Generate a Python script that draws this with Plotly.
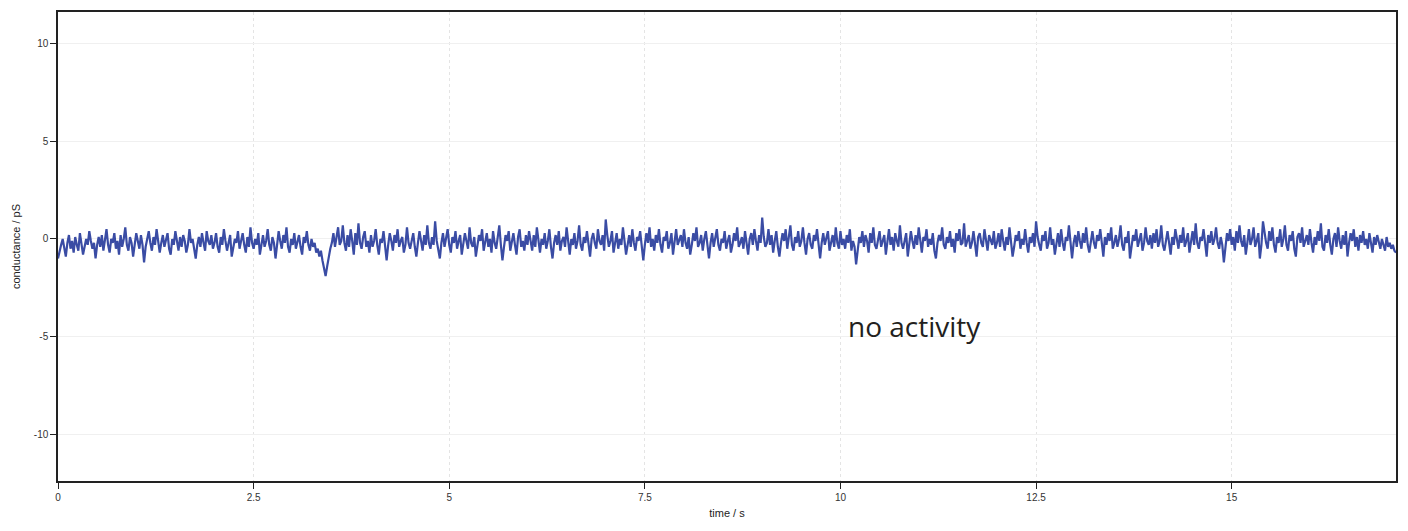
import plotly.graph_objects as go

# sampling interval of the hand-read trace (s)
dt = 0.02

# conductance (pS) in 2 s blocks
seg_00_02 = [-1.0, -0.6, -0.3, 0.0, -0.4, -0.9, -0.2, 0.2, -0.5, -0.1,
             -0.7, 0.1, -0.3, -0.6, 0.3, -0.2, -0.8, -0.4, 0.0, -0.3,
             0.4, -0.1, -0.5, -0.2, -1.0, -0.3, 0.1, -0.4, 0.2, -0.6,
             -0.1, 0.5, -0.3, -0.7, 0.0, -0.2, 0.3, -0.5, -0.1, -0.8,
             0.2, -0.4, 0.0, 0.6, -0.3, -0.6, 0.1, -0.2, -0.9, -0.4,
             0.3, -0.1, -0.5, 0.2, -0.3, -1.2, -0.4, 0.0, 0.4, -0.2,
             -0.6, 0.1, -0.3, 0.5, -0.1, -0.7, -0.2, 0.2, -0.4, -0.1,
             0.3, -0.5, -0.8, 0.0, -0.3, 0.4, -0.2, -0.6, 0.1, -0.4,
             0.2, -0.1, -0.7, -0.3, 0.5, -0.2, 0.0, -0.5, -1.0, -0.3,
             0.1, -0.4, 0.3, -0.2, -0.6, 0.4, -0.1, -0.3, 0.2, -0.5]
seg_02_04 = [-0.2, 0.3, -0.4, -0.7, 0.1, -0.3, 0.5, -0.1, -0.6, -0.2,
             0.2, -0.9, -0.4, 0.0, -0.2, 0.4, -0.5, -0.1, 0.3, -0.3,
             -0.7, 0.1, -0.4, 0.6, -0.2, -0.5, 0.0, -0.3, 0.3, -0.8,
             -0.2, 0.2, -0.4, -0.1, 0.5, -0.3, -0.6, 0.1, -0.2, -1.0,
             -0.3, 0.4, -0.1, -0.5, 0.2, -0.2, 0.6, -0.4, -0.7, 0.0,
             -0.3, 0.3, -0.5, -0.1, 0.2, -0.4, -0.8, 0.1, -0.2, 0.4,
             -0.3, -0.6, 0.0, -0.4, -0.2, -0.7, -0.5, -0.9, -0.6, -1.1,
             -1.5, -1.9, -1.4, -0.9, -0.5, -0.2, 0.3, -0.4, 0.1, 0.6,
             -0.3, -0.1, 0.7, -0.2, -0.6, 0.2, -0.4, 0.5, -0.1, -0.8,
             0.3, -0.3, 0.8, -0.2, -0.5, 0.1, 0.4, -0.4, -0.1, -0.7]
seg_04_06 = [0.2, -0.4, -0.1, 0.5, -0.3, -0.8, 0.0, -0.2, 0.4, -0.5,
             -1.1, -0.3, 0.3, -0.1, -0.6, 0.2, -0.2, 0.5, -0.4, -0.1,
             0.1, -0.7, -0.3, 0.6, -0.2, -0.5, 0.0, 0.3, -0.4, -0.9,
             -0.2, 0.4, -0.1, -0.6, 0.2, -0.3, 0.7, -0.2, -0.5, 0.1,
             -0.3, 0.9, -0.1, -0.6, -1.0, -0.2, 0.3, -0.4, 0.0, 0.5,
             -0.3, -0.7, 0.1, -0.2, 0.4, -0.5, -0.1, 0.2, -0.8, -0.3,
             0.3, -0.1, -0.5, 0.6, -0.2, -0.4, 0.1, -0.9, -0.3, 0.2,
             -0.1, 0.5, -0.6, -0.2, 0.3, -0.4, 0.0, -0.7, 0.4, -0.2,
             -0.5, 0.1, 0.7, -0.3, -1.1, -0.4, 0.2, -0.1, 0.4, -0.6,
             -0.2, 0.3, -0.3, -0.8, 0.1, 0.5, -0.4, -0.1, -0.6, 0.2]
seg_06_08 = [-0.3, 0.4, -0.1, -0.6, 0.2, -0.4, 0.6, -0.2, -0.7, 0.0,
             -0.3, 0.3, -0.5, -0.1, 0.5, -0.4, -1.0, -0.2, 0.2, -0.3,
             0.4, -0.6, -0.1, 0.1, -0.4, 0.6, -0.2, -0.8, 0.0, -0.3,
             0.3, -0.5, -0.1, 0.7, -0.3, -0.6, 0.1, -0.2, 0.4, -0.4,
             -0.9, 0.0, 0.3, -0.2, -0.5, 0.5, -0.1, -0.3, 0.2, -0.6,
             1.0, 0.2, -0.4, -0.1, 0.4, -0.7, -0.2, 0.3, -0.5, 0.0,
             -0.3, 0.6, -0.1, -0.8, -0.3, 0.2, -0.4, 0.5, -0.2, -0.6,
             0.1, -0.1, 0.4, -0.5, -1.1, -0.3, 0.3, -0.2, 0.6, -0.4,
             0.0, -0.6, 0.2, -0.2, 0.5, -0.3, -0.7, 0.1, -0.1, 0.4,
             -0.5, -0.2, 0.3, -0.8, 0.0, 0.5, -0.3, -0.1, 0.2, -0.4]
seg_08_10 = [0.5, -0.2, -0.5, 0.1, -0.8, -0.3, 0.3, -0.1, 0.6, -0.4,
             -0.2, 0.2, -0.6, 0.0, 0.4, -0.3, -1.0, -0.2, 0.3, -0.4,
             0.1, 0.5, -0.3, -0.6, 0.0, -0.2, 0.4, -0.5, -0.1, 0.2,
             -0.7, -0.3, 0.3, -0.1, 0.6, -0.4, -0.2, 0.1, -0.5, 0.4,
             -0.2, -0.8, 0.0, 0.3, -0.3, 0.5, -0.1, -0.6, 0.2, -0.2,
             1.1, 0.1, -0.4, -0.2, 0.5, -0.3, 0.2, -0.7, -0.1, 0.4,
             -0.4, -0.9, -0.2, 0.3, -0.1, 0.5, -0.5, 0.0, 0.7, -0.3,
             -0.6, 0.1, -0.2, 0.4, -0.4, -0.1, 0.6, -0.2, -0.8, 0.0,
             0.3, -0.3, -0.5, 0.2, -0.1, 0.5, -0.4, -1.0, -0.2, 0.3,
             -0.3, 0.1, 0.4, -0.6, -0.1, 0.2, -0.4, 0.6, -0.2, -0.5]
seg_10_12 = [0.4, -0.3, 0.0, -0.5, 0.2, -0.2, 0.5, -0.6, -0.1, -0.4,
             -1.3, -0.5, 0.1, -0.2, 0.4, -0.4, 0.2, -0.1, -0.7, 0.3,
             -0.2, 0.6, -0.3, -0.5, 0.0, 0.4, -0.4, -0.1, 0.2, -0.8,
             -0.2, 0.5, -0.3, 0.1, -0.6, 0.3, -0.1, -0.4, 0.7, -0.2,
             -0.5, 0.0, 0.3, -0.9, -0.2, 0.4, -0.1, -0.5, 0.2, -0.3,
             0.6, -0.2, -0.7, 0.1, -0.1, 0.5, -0.4, 0.0, -0.3, 0.3,
             -0.6, -1.0, -0.2, 0.2, -0.1, 0.6, -0.3, -0.5, 0.1, -0.2,
             0.4, -0.4, 0.0, -0.7, 0.3, -0.1, 0.5, -0.3, -0.2, 0.8,
             -0.4, -0.1, 0.2, -0.5, -0.2, 0.4, -0.3, -0.9, 0.1, 0.3,
             -0.2, -0.4, 0.5, -0.1, -0.6, 0.2, 0.0, -0.3, 0.4, -0.5]
seg_12_14 = [-0.2, 0.3, -0.4, 0.5, -0.1, -0.6, 0.1, -0.3, 0.6, -0.2,
             -0.9, -0.4, 0.2, -0.1, 0.4, -0.5, 0.0, -0.3, 0.5, -0.2,
             -0.7, 0.1, -0.2, 0.3, -0.4, 0.9, 0.1, -0.3, -0.6, 0.2,
             -0.1, 0.4, -0.5, -0.2, 0.6, -0.3, 0.0, -0.8, -0.1, 0.3,
             -0.4, 0.5, -0.2, -0.6, 0.1, -0.1, 0.7, -0.3, -1.0, -0.2,
             0.2, -0.4, 0.4, -0.1, -0.5, 0.3, -0.2, 0.6, -0.3, -0.7,
             0.0, 0.4, -0.2, -0.5, 0.2, -0.1, 0.5, -0.4, -0.9, 0.1,
             -0.3, 0.3, -0.1, 0.6, -0.5, -0.2, 0.2, -0.4, 0.0, 0.7,
             -0.3, -0.6, 0.1, -0.2, 0.4, -1.0, -0.3, 0.2, -0.1, 0.5,
             -0.4, 0.0, 0.3, -0.6, -0.2, 0.6, -0.1, -0.3, 0.2, -0.5]
seg_14_16 = [0.3, -0.2, 0.5, -0.4, -0.1, 0.7, -0.3, -0.6, 0.0, 0.4,
             -0.2, -0.8, 0.1, -0.3, 0.5, -0.1, -0.5, 0.2, -0.2, 0.6,
             -0.4, -0.1, 0.3, -0.7, 0.0, 0.4, -0.3, 0.8, -0.2, -0.5,
             0.1, -0.1, 0.5, -0.4, -0.9, 0.2, -0.2, 0.4, -0.3, 0.0,
             0.6, -0.2, -0.5, 0.1, -0.3, -1.2, -0.4, 0.3, -0.1, 0.5,
             -0.3, 0.1, -0.6, 0.4, -0.2, 0.7, -0.1, -0.4, 0.2, -0.8,
             -0.2, 0.5, -0.3, 0.0, 0.6, -0.4, -0.1, 0.3, -1.0, -0.3,
             0.9, 0.2, -0.2, -0.5, 0.4, -0.1, 0.6, -0.3, -0.7, 0.1,
             -0.2, 0.5, -0.4, 0.0, 0.7, -0.3, -0.6, 0.2, -0.1, 0.4,
             -0.5, -0.9, 0.1, 0.3, -0.2, 0.6, -0.4, -0.1, 0.2, -0.3]
seg_16_end = [0.5, -0.2, -0.7, 0.1, -0.3, 0.4, -0.1, 0.8, -0.4, -0.6,
              0.2, -0.2, 0.5, -0.3, -0.8, 0.0, 0.3, -0.4, 0.6, -0.1,
              -0.5, 0.2, -0.3, 0.4, -0.9, -0.2, 0.3, -0.1, 0.5, -0.4,
              0.1, -0.6, 0.2, -0.2, 0.4, -0.3, 0.0, -0.5, 0.3, -0.2,
              -0.7, 0.1, -0.3, 0.2, -0.1, -0.5, 0.0, -0.3, -0.6, 0.1,
              -0.4, -0.2, -0.5, -0.3, -0.6, -0.7]

conductance = (seg_00_02 + seg_02_04 + seg_04_06 + seg_06_08 + seg_08_10 +
               seg_10_12 + seg_12_14 + seg_14_16 + seg_16_end)
time = [round(i * dt, 4) for i in range(len(conductance))]

x_ticks = [0, 2.5, 5, 7.5, 10, 12.5, 15]
x_labels = ["0", "2.5", "5", "7.5", "10", "12.5", "15"]
y_ticks = [-10, -5, 0, 5, 10]
y_labels = ["-10", "-5", "0", "5", "10"]

fig = go.Figure()
fig.add_trace(go.Scatter(x=time, y=conductance, mode="lines",
                         line=dict(color="#3a4ca4", width=2.2), showlegend=False))

fig.add_annotation(x=10.94, y=-4.45, text="no activity", showarrow=False,
                   font=dict(family="Open Sans, Noto Sans, sans-serif", size=28, color="#231f20"))

axis_common = dict(showline=True, linecolor="#222222", linewidth=1.5, mirror=True,
                   ticks="outside", ticklen=6, tickcolor="#222222", tickwidth=1.2,
                   tickfont=dict(family="Liberation Sans, Arial, sans-serif", size=10, color="#333333"),
                   zeroline=False)

fig.update_xaxes(range=[0, 17.1], tickvals=x_ticks, ticktext=x_labels,
                 showgrid=True, gridcolor="#e4e4e4", griddash="dot", gridwidth=1,
                 title=dict(text="time / s", standoff=8,
                            font=dict(family="Liberation Sans, Arial, sans-serif", size=11, color="#222222")),
                 **axis_common)
fig.update_yaxes(range=[-12.4, 11.63], tickvals=y_ticks, ticktext=y_labels,
                 showgrid=True, gridcolor="#f0f0f0", gridwidth=1,
                 title=dict(text="conductance / pS", standoff=11,
                            font=dict(family="Liberation Sans, Arial, sans-serif", size=11, color="#222222")),
                 **axis_common)

fig.update_layout(width=1392, height=515, margin=dict(l=50, r=4, t=2, b=42),
                  plot_bgcolor="white", paper_bgcolor="white")

fig.write_html("out.html")
